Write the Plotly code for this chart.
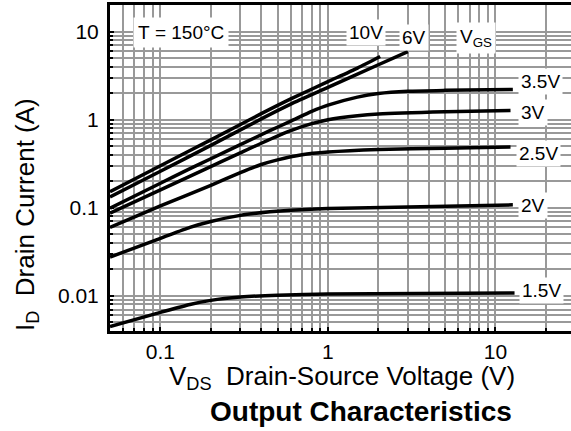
import plotly.graph_objects as go

# ---- data ----
vgs_labels = ["10V", "6V", "3.5V", "3V", "2.5V", "2V", "1.5V"]

vds_10v = [0.05, 0.1, 0.2, 0.4, 0.6, 1.0, 1.5, 2.05]
id_10v = [0.152, 0.30, 0.59, 1.17, 1.72, 2.7, 3.85, 5.2]

vds_6v = [0.05, 0.1, 0.2, 0.4, 0.6, 1.0, 2.0, 3.0]
id_6v = [0.133, 0.26, 0.51, 1.02, 1.5, 2.32, 4.2, 5.9]

vds_3v5 = [0.05, 0.1, 0.144, 0.2, 0.3, 0.45, 0.6, 0.8, 1.0, 1.5, 2.0, 3.0, 5.0, 12.7]
id_3v5 = [0.099, 0.19, 0.268, 0.36, 0.52, 0.75, 0.96, 1.24, 1.46, 1.8, 1.98, 2.1, 2.15, 2.2]

vds_3v = [0.05, 0.1, 0.18, 0.3, 0.4, 0.6, 0.8, 1.0, 1.5, 2.0, 5.0, 12.3]
id_3v = [0.087, 0.16, 0.268, 0.42, 0.54, 0.75, 0.9, 1.0, 1.11, 1.16, 1.23, 1.27]

vds_2v5 = [0.05, 0.1, 0.2, 0.3, 0.4, 0.5, 0.7, 1.0, 2.0, 5.0, 12.3]
id_2v5 = [0.06, 0.105, 0.18, 0.25, 0.31, 0.35, 0.40, 0.43, 0.46, 0.475, 0.49]

vds_2v = [0.05, 0.1, 0.15, 0.2, 0.3, 0.45, 0.6, 1.0, 3.0, 12.7]
id_2v = [0.0276, 0.045, 0.060, 0.070, 0.082, 0.090, 0.094, 0.098, 0.102, 0.108]

vds_1v5 = [0.05, 0.1, 0.15, 0.2, 0.3, 0.5, 1.0, 13.0]
id_1v5 = [0.0045, 0.0065, 0.0080, 0.0089, 0.0097, 0.0102, 0.0105, 0.0108]

x_tickvals = [0.1, 1, 10]
x_ticktext = ["0.1", "1", "10"]
y_tickvals = [0.01, 0.1, 1, 10]
y_ticktext = ["0.01", "0.1", "1", "10"]

FONT = "Liberation Sans, Arial, sans-serif"
GRID = "#999999"

fig = go.Figure()
series = [
    (vds_10v, id_10v), (vds_6v, id_6v), (vds_3v5, id_3v5), (vds_3v, id_3v),
    (vds_2v5, id_2v5), (vds_2v, id_2v), (vds_1v5, id_1v5),
]
for (xs, ys), name in zip(series, vgs_labels):
    fig.add_trace(go.Scatter(x=xs, y=ys, mode="lines", name=name,
                             line=dict(color="black", width=3.5, shape="spline", smoothing=0.6),
                             showlegend=False, hoverinfo="skip"))

x_minor = [m * 10 ** e for e in (-2, -1, 0, 1) for m in range(2, 10)]
y_minor = [m * 10 ** e for e in (-3, -2, -1, 0, 1) for m in range(2, 10)]

fig.update_xaxes(type="log", range=[-1.301, 1.451],
                 tickvals=x_tickvals, ticktext=x_ticktext,
                 showgrid=True, gridcolor=GRID, gridwidth=1.5,
                 minor=dict(tickvals=x_minor, showgrid=True, gridcolor=GRID, gridwidth=1.5,
                            ticks="inside", ticklen=3, tickcolor="black", tickwidth=1.5),
                 ticks="inside", ticklen=4, tickcolor="black", tickwidth=2,
                 showline=True, linecolor="black", linewidth=3, mirror=True,
                 tickfont=dict(family=FONT, size=21, color="black"),
                 ticklabelstandoff=0, zeroline=False)
fig.update_yaxes(type="log", range=[-2.398, 1.301],
                 tickvals=y_tickvals, ticktext=y_ticktext,
                 showgrid=True, gridcolor=GRID, gridwidth=1.5,
                 minor=dict(tickvals=y_minor, showgrid=True, gridcolor=GRID, gridwidth=1.5,
                            ticks="inside", ticklen=3, tickcolor="black", tickwidth=1.5),
                 ticks="inside", ticklen=4, tickcolor="black", tickwidth=2,
                 showline=True, linecolor="black", linewidth=3, mirror=False,
                 tickfont=dict(family=FONT, size=21, color="black"),
                 ticklabelstandoff=4, zeroline=False)

def lab(text, px, py, size=19, bg="white", pad=2, **kw):
    fig.add_annotation(text=text, xref="paper", yref="paper",
                       x=(px - 110) / 461, y=(331 - py) / 326,
                       showarrow=False, xanchor="center", yanchor="middle",
                       font=dict(family=FONT, size=size, color="black"),
                       bgcolor=bg, borderpad=pad, **kw)

lab("T\u00a0=\u00a0150°C", 181, 33, pad=4)
lab(vgs_labels[0], 366, 33)
lab(vgs_labels[1], 414, 38)
lab("V<sub>GS</sub>", 476, 38, pad=3)
lab(vgs_labels[2], 540, 82)
lab(vgs_labels[3], 533, 113)
lab(vgs_labels[4], 538, 153)
lab(vgs_labels[5], 533, 205)
lab(vgs_labels[6], 541, 290)

lab("I<sub>D</sub>\u00a0\u00a0Drain Current (A)", 26, 215, size=26, bg=None, pad=0, textangle=-90)
lab("V<sub>DS</sub>\u00a0\u00a0Drain-Source Voltage (V)", 342, 377, size=26, bg=None, pad=0)
lab("<b>Output Characteristics</b>", 361, 411, size=28, bg=None, pad=0)

fig.update_layout(width=571, height=431,
                  margin=dict(l=110, r=0, t=5, b=100),
                  plot_bgcolor="white", paper_bgcolor="white",
                  font=dict(family=FONT, color="black"))

fig.write_html("out.html")
